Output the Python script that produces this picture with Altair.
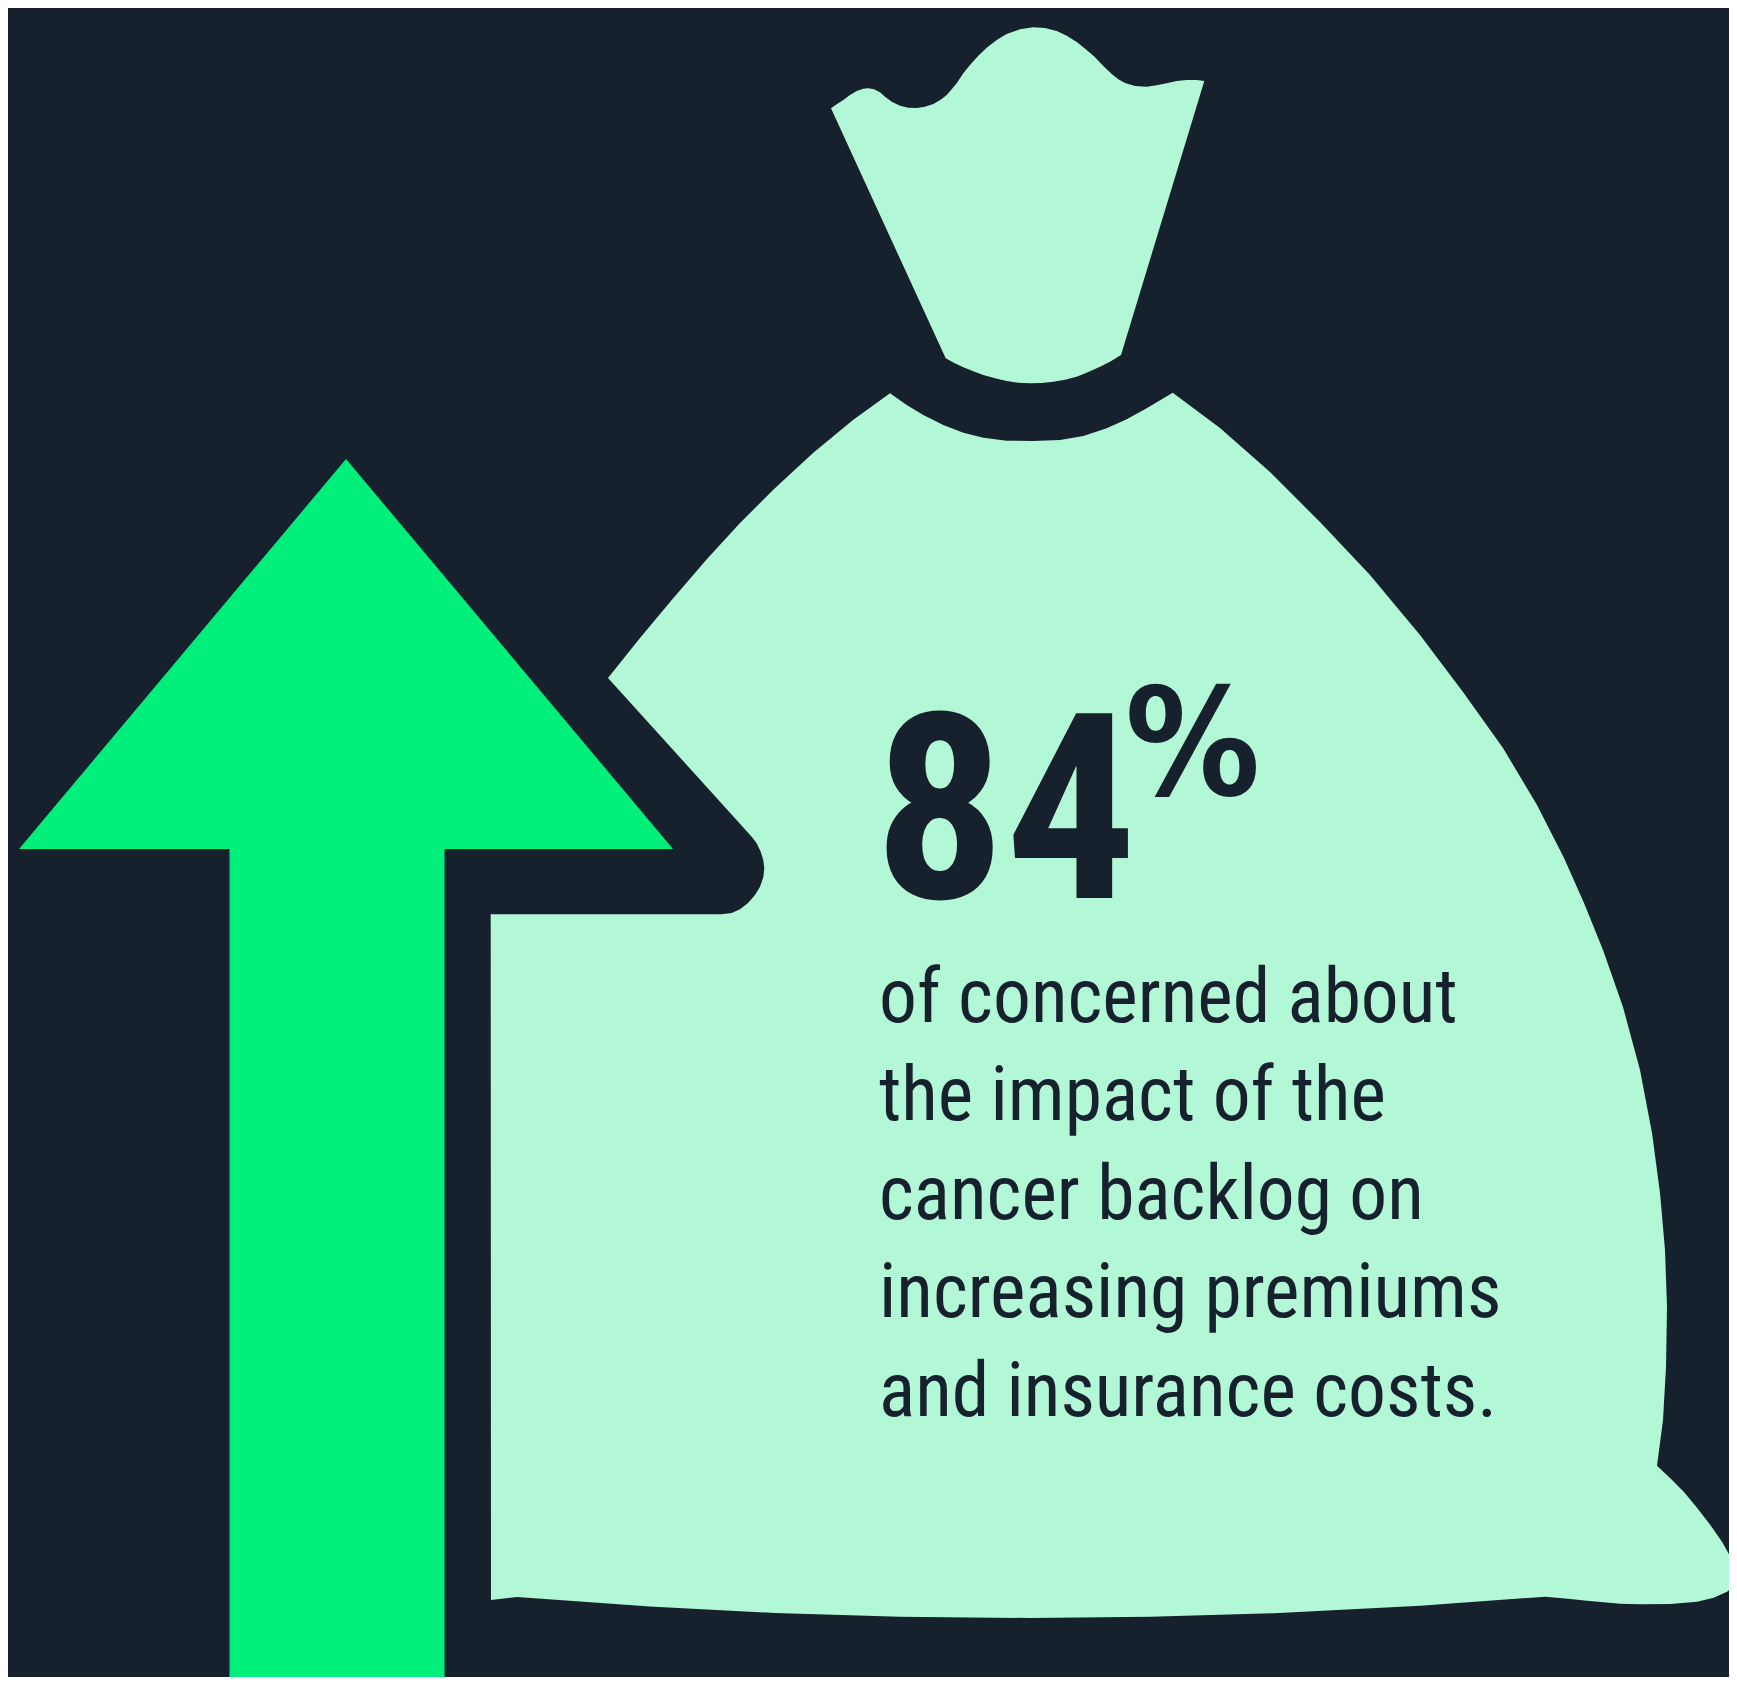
import altair as alt
import pandas as pd

BG = "#17212E"
MINT = "#B3F8D6"
GREEN = "#00EF7B"

neck_x = [831,836.7,843.3,850,856.7,863.3,868.3,874,880,885,891.7,900,908.3,916.7,925,933.3,940.7,946.7,951.7,956.7,963.3,970,978.3,986.7,996.7,1006.7,1020,1033.3,1045,1056.7,1066.7,1076.7,1086.7,1095,1103.3,1111.7,1118.3,1125,1135,1146.7,1156.7,1166.7,1176.7,1186.7,1196.7,1204.3,
          1121,1110,1100,1088.3,1076.7,1065,1053.3,1041.7,1030,1018.3,1006.7,995,983.3,973.3,963.3,954.3,945.7]
neck_y = [108.3,104.3,100,95,91,88.7,88.3,89.3,92.3,96.7,101.7,105.7,107.7,108,106.7,104,99.7,95,89.3,83.3,73.3,65,55.7,47.7,40,34,29.3,27.3,28,31,35.7,42,50,57.3,66,74,79.3,83,86,86.7,85.3,83.3,81,80,80,81,
          355,361.7,366.7,372,376.7,379.7,381.7,383,383.3,382.7,381,378.3,375,371.3,367.3,363,358.3]

bag_x = [890,906.7,923.3,943.3,963.3,983.3,1006.7,1033.3,1060,1083.3,1106.7,1126.7,1146.7,1172.7,
         1220,1270,1320,1370,1420,1463,1503,1537,1564,1584,1603,1623,1640,1652,1660,1665,1667,1666,1663,
         1657,1670.3,1683.7,1697,1710.3,1722,1730.3,1737,1737,1727,1713.7,1697,1670.3,1640.3,1620.3,1603.7,1587,1570.3,1557,1545.3,
         1420,1274,1150,1030,900,775,650,517,491,
         490.7,721.7,731.7,740,748.3,755,760,763.3,764.3,763.3,760.7,756.7,751.7,
         608,640,673,707,740,773,813,853]
bag_y = [393.3,405,415,425,432.7,437.7,440.7,441,440,436,428.3,419.3,408.3,392.7,
         428,472,522,575,635,692,748,805,858,903,950,1007,1070,1133,1193,1250,1307,1367,1420,
         1465.7,1478.3,1491.7,1507.7,1525,1541.7,1556.7,1568.3,1585,1591.7,1597.7,1601.7,1604,1604.3,1603.7,1602.3,1600.7,1599,1597.7,1596.7,
         1605.8,1613.2,1616.8,1618,1616.7,1613,1606.5,1597,1600,
         914.3,914.3,913,909.3,902.7,895,886.7,877.3,868.3,860,851.7,843.3,836.7,
         678,638,598.5,559,523,490,453,420]

arrow_x = [346,673,444.5,444.5,229.5,229.5,19]
arrow_y = [459,849,849,1683,1683,849,849]

big_text = ["84"]
big_x = [874]
big_y = [898]
pct_text = ["%"]
pct_x = [1125]
pct_y = [795]
body_text = ["of concerned about", "the impact of the", "cancer backlog on", "increasing premiums", "and insurance costs."]
body_x = [879, 879, 879, 879, 879]
body_y = [1022, 1120, 1219, 1317, 1416]

X = alt.Scale(domain=[8, 1729])
Y = alt.Scale(domain=[1677, 8])


def shape(xs, ys, color):
    df = pd.DataFrame({"x": xs, "y": ys, "i": range(len(xs))})
    return alt.Chart(df).mark_line(fill=color, strokeWidth=0, clip=True).encode(
        x=alt.X("x:Q", scale=X, axis=None),
        y=alt.Y("y:Q", scale=Y, axis=None),
        order=alt.Order("i:Q"),
    )


def text(labels, xs, ys, font, size, weight):
    df = pd.DataFrame({"t": labels, "x": xs, "y": ys})
    return alt.Chart(df).mark_text(
        font=font, fontSize=size, fontWeight=weight, color=BG, align="left", baseline="alphabetic"
    ).encode(
        x=alt.X("x:Q", scale=X, axis=None),
        y=alt.Y("y:Q", scale=Y, axis=None),
        text="t:N",
    )


chart = alt.layer(
    shape(neck_x, neck_y, MINT),
    shape(bag_x, bag_y, MINT),
    shape(arrow_x, arrow_y, GREEN),
    text(big_text, big_x, big_y, "Roboto Condensed", 260, "bold"),
    text(pct_text, pct_x, pct_y, "DejaVu Sans Condensed", 150, "bold"),
    text(body_text, body_x, body_y, "Roboto Condensed", 75.5, "normal"),
).properties(
    width=1721, height=1669, background=BG, padding=0,
    autosize=alt.AutoSizeParams(type="fit", contains="padding"),
).configure_view(stroke=None)

chart.save("out.html", embed_options={"renderer": "svg", "actions": False})
